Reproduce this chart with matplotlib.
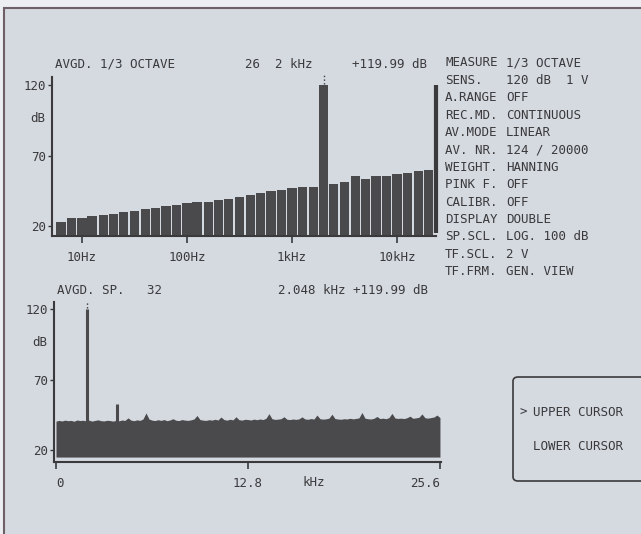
import numpy as np
import matplotlib.pyplot as plt
from matplotlib.patches import Rectangle, FancyBboxPatch

# figure size in pixels (dpi 100)
W, H = 641, 534

# 1/3 octave bands (Hz) and levels (dB)
band_freqs = [6.3, 8, 10, 12.5, 16, 20, 25, 31.5, 40, 50, 63, 80, 100, 125,
              160, 200, 250, 315, 400, 500, 630, 800, 1000, 1250, 1600, 2000,
              2500, 3150, 4000, 5000, 6300, 8000, 10000, 12500, 16000, 20000]
band_levels = [23.0, 25.4, 25.4, 26.9, 27.8, 28.7, 29.7, 30.9, 32.1, 33.0,
               34.2, 35.1, 36.3, 37.3, 37.3, 38.4, 39.4, 40.6, 41.8, 43.6,
               44.6, 45.8, 46.7, 47.9, 47.9, 119.99, 50.0, 51.2, 55.5, 53.3,
               55.5, 55.5, 56.7, 57.6, 58.8, 59.9]
band_ticks = [10, 100, 1000, 10000]
band_tick_labels = ["10Hz", "100Hz", "1kHz", "10kHz"]
band_cursor = 2000

# narrow band spectrum: noise floor every 0.2 kHz (dB)
noise_floor = [
    40.5, 41.0, 40.6, 41.2, 40.8,
    41.0, 40.4, 41.3, 40.9, 41.1,
    40.7, 41.2, 40.5, 41.0, 41.4,
    40.8, 40.6, 41.1, 40.9, 40.5,
    41.0, 40.7, 41.3, 41.0, 42.8,
    41.2, 40.8, 41.4, 41.0, 42.0,
    46.3, 42.0, 41.2, 40.9, 41.5,
    41.0, 41.6, 40.8, 41.3, 42.2,
    41.1, 40.9, 41.6, 41.2, 41.0,
    41.4, 42.0, 44.5, 41.6, 41.2,
    41.0, 41.5, 41.2, 41.8, 41.3,
    43.4, 41.6, 41.2, 41.8, 41.4,
    43.6, 41.5, 41.2, 41.8, 41.6,
    41.3, 41.9, 41.5, 42.0, 41.6,
    42.5, 45.8, 42.2, 41.7, 41.9,
    42.2, 43.6, 41.8, 41.6, 42.0,
    41.7, 42.1, 43.5, 42.0, 41.8,
    42.3, 42.0, 44.8, 42.2, 41.9,
    42.1, 42.6, 45.4, 42.3, 42.0,
    41.8, 42.2, 42.0, 42.5, 42.1,
    42.4, 42.8, 46.6, 42.6, 42.2,
    42.0, 42.5, 43.8, 42.3, 42.6,
    42.2, 43.0, 46.0, 42.7, 42.4,
    42.6, 42.3, 42.9, 44.0, 42.5,
    42.8, 43.2, 45.6, 42.9, 42.6,
    43.0, 43.4, 44.8, 43.0,
]
spec_step = 0.2  # kHz
peak_freqs = [2.048, 4.096]
peak_levels = [119.99, 52.4]
spec_ticks = [0, 12.8, 25.6]
spec_tick_labels = ["0", "12.8", "25.6"]

settings_keys = ["MEASURE", "SENS.", "A.RANGE", "REC.MD.", "AV.MODE",
                 "AV. NR.", "WEIGHT.", "PINK F.", "CALIBR.", "DISPLAY",
                 "SP.SCL.", "TF.SCL.", "TF.FRM."]
settings_vals = ["1/3 OCTAVE", "120 dB  1 V", "OFF", "CONTINUOUS", "LINEAR",
                 "124 / 20000", "HANNING", "OFF", "OFF", "DOUBLE",
                 "LOG. 100 dB", "2 V", "GEN. VIEW"]

# colours
OUTER = "#eceef1"
PANEL = "#d5d9e0"
INK = "#3a3a3c"
BAR = "#4a4a4c"
FRAME = "#6e6066"

plt.rcParams['font.family'] = ['DejaVu Sans Mono']
plt.rcParams['font.size'] = 9

fig = plt.figure(figsize=(W / 100, H / 100), dpi=100, facecolor=OUTER)


def put(x, y, s, **kw):
    fig.text(x / W, 1 - y / H, s, va='center', color=INK, **kw)


def box(left, top, right, bottom):
    return [left / W, 1 - bottom / H, (right - left) / W, (bottom - top) / H]


# panel with frame on top and left
fig.add_artist(Rectangle((4 / W, -0.1), 1.2, 1.1 - 8 / H,
                         transform=fig.transFigure, facecolor=PANEL,
                         edgecolor=FRAME, lw=1.5, zorder=-5))


def style(ax):
    ax.set_facecolor('none')
    for s in ['top', 'right']:
        ax.spines[s].set_visible(False)
    for s in ['left', 'bottom']:
        ax.spines[s].set_color(INK)
        ax.spines[s].set_linewidth(1.5)
    ax.set_yticks([20, 70, 120])
    ax.set_yticklabels(["20", "70", "120"])
    ax.tick_params(axis='y', length=3, width=1, pad=1.5, colors=INK)
    ax.tick_params(axis='x', length=5, width=1.2, pad=6, colors=INK)
    ax.text(-7 / 384, 96, "dB", transform=ax.get_yaxis_transform(),
            ha='right', va='center', color=INK)


# ---- upper chart: 1/3 octave
Y1 = (12.9, 125.7)
X1 = (5.18, 23520)
ax1 = fig.add_axes(box(52, 77, 436, 236))
style(ax1)
f = np.array(band_freqs)
half = 10 ** 0.0445
ax1.bar(f / half, np.array(band_levels) - Y1[0], width=f * half - f / half,
        bottom=Y1[0], align='edge', color=BAR, lw=0)
ax1.set_xscale('log')
ax1.set_xlim(X1)
ax1.set_ylim(Y1)
ax1.set_xticks(band_ticks)
ax1.set_xticklabels(band_tick_labels)
ax1.minorticks_off()
ax1.vlines(band_cursor, 120.5, Y1[1] + 1.5, colors=INK, linestyles=':',
           lw=1, clip_on=False)
ax1.vlines(X1[1], Y1[0] + 2, 120, colors=INK, lw=3, clip_on=False)

# ---- lower chart: averaged spectrum
Y2 = (11.5, 125)
X2 = (-0.133, 25.67)
ax2 = fig.add_axes(box(54, 302, 441, 462))
style(ax2)
spec_freqs = np.arange(len(noise_floor)) * spec_step
ax2.fill_between(spec_freqs, Y2[0] + 3.5, noise_floor, color=BAR, lw=0)
ax2.vlines(peak_freqs, 40, peak_levels, colors=BAR, lw=2.2)
ax2.vlines(peak_freqs[0], 120.5, Y2[1] + 1, colors=INK, linestyles=':',
           lw=1, clip_on=False)
ax2.set_xlim(X2)
ax2.set_ylim(Y2)
ax2.set_xticks(spec_ticks)
ax2.set_xticklabels(spec_tick_labels)
labels = ax2.get_xticklabels()
labels[0].set_ha('left')
labels[2].set_ha('right')
ax2.text(0.67, -0.125, "kHz", transform=ax2.transAxes, ha='center',
         va='center', color=INK)

# ---- header lines
put(55, 64, "AVGD. 1/3 OCTAVE")
put(245, 64, "26  2 kHz")
put(352, 64, "+119.99 dB")
put(57, 290, "AVGD. SP.   32")
put(278, 290, "2.048 kHz +119.99 dB")

# ---- settings column
for i, (k, v) in enumerate(zip(settings_keys, settings_vals)):
    y = 63 + i * 17.4
    put(445, y, k)
    put(506, y, v)

# ---- cursor selection box
fig.add_artist(FancyBboxPatch((513 / W, 1 - 481 / H), 200 / W, 104 / H,
                              boxstyle="round,pad=0,rounding_size=0.008",
                              transform=fig.transFigure, facecolor='none',
                              edgecolor=INK, lw=1.2))
put(520, 412, ">")
put(533, 412, "UPPER CURSOR")
put(533, 447, "LOWER CURSOR")

fig.savefig("out.png", dpi=100, facecolor=OUTER)
